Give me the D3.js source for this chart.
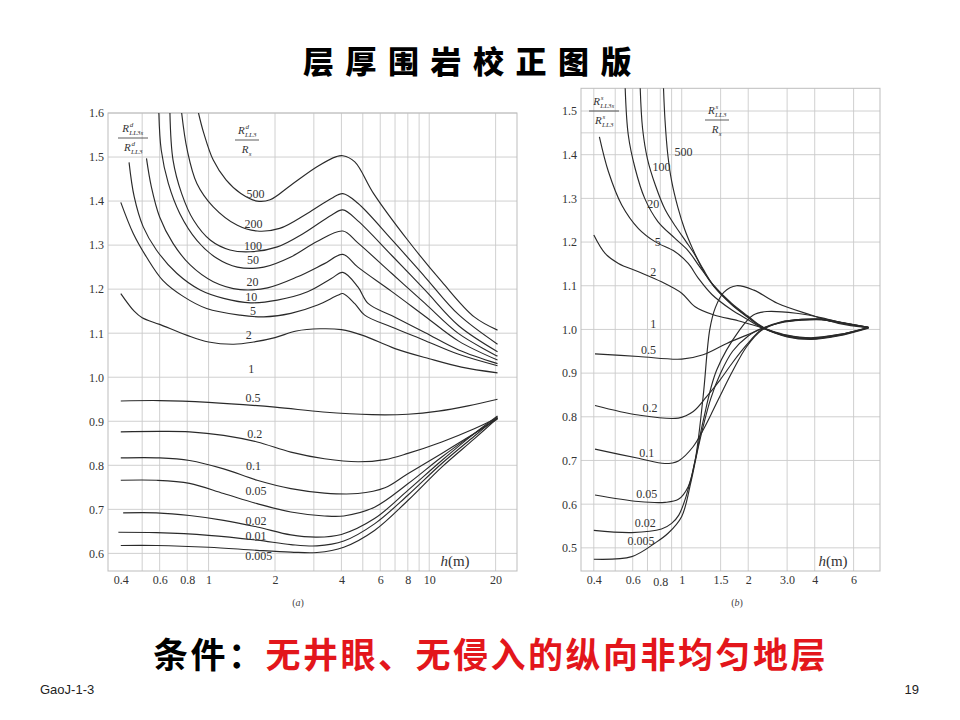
<!DOCTYPE html>
<html>
<head>
<meta charset="utf-8">
<script src="https://cdn.jsdelivr.net/npm/d3@7"></script>
<style>
  body { margin: 0; background: #fff; }
  svg { display: block; }
</style>
</head>
<body>
<svg id="chart" width="960" height="720"></svg>
<script>
// 层厚围岩校正图版 — two log-x correction charts, (a) deep and (b) shallow laterolog

// ---- panel (a) data: [h (m), ratio] ----
const a500 = [[0.90,1.60],[0.95,1.555],[1.05,1.493],[1.2,1.448],[1.4,1.417],[1.66,1.40],[1.9,1.403],[2.36,1.436],[3.1,1.478],[3.8,1.501],[4.06,1.503],[4.6,1.489],[5.6,1.417],[8,1.311],[11.4,1.217],[16,1.137],[20.4,1.107]];
const a200 = [[0.755,1.60],[0.80,1.516],[0.885,1.44],[1.05,1.387],[1.35,1.345],[1.66,1.332],[2.1,1.338],[2.8,1.372],[3.6,1.406],[4.06,1.417],[4.75,1.395],[6.75,1.313],[9.6,1.227],[13.6,1.142],[20.4,1.075]];
const a100 = [[0.668,1.60],[0.69,1.493],[0.755,1.417],[0.854,1.357],[1.02,1.311],[1.25,1.289],[1.55,1.285],[2.05,1.296],[2.7,1.327],[3.6,1.368],[4.06,1.38],[4.75,1.355],[6.75,1.277],[9.6,1.197],[13.6,1.117],[20.4,1.058]];
const a50 = [[0.595,1.60],[0.61,1.516],[0.657,1.44],[0.74,1.372],[0.885,1.311],[1.09,1.27],[1.35,1.25],[1.78,1.25],[2.36,1.273],[3.1,1.308],[4.06,1.332],[4.75,1.305],[6.75,1.236],[9.6,1.167],[13.6,1.099],[20.4,1.048]];
const a20 = [[0.523,1.497],[0.55,1.433],[0.60,1.364],[0.69,1.304],[0.825,1.255],[1.05,1.217],[1.39,1.199],[1.85,1.203],[2.53,1.228],[3.35,1.258],[4.06,1.279],[4.75,1.25],[6.75,1.195],[9.6,1.138],[13.6,1.082],[20.4,1.039]];
const a10 = [[0.436,1.488],[0.46,1.41],[0.505,1.342],[0.58,1.289],[0.717,1.236],[0.916,1.198],[1.17,1.179],[1.55,1.169],[2.05,1.175],[2.81,1.194],[3.6,1.224],[4.06,1.238],[4.75,1.205],[5.3,1.167],[6.75,1.14],[9.6,1.101],[13.6,1.062],[20.4,1.031]];
const a5 = [[0.40,1.397],[0.455,1.327],[0.523,1.273],[0.62,1.22],[0.77,1.183],[0.98,1.156],[1.39,1.141],[1.78,1.137],[2.36,1.145],[3.12,1.164],[3.85,1.186],[4.06,1.19],[4.6,1.167],[5.1,1.141],[6.75,1.114],[9.6,1.083],[13.6,1.052],[20.4,1.026]];
const a2 = [[0.40,1.19],[0.46,1.15],[0.5,1.135],[0.6,1.12],[0.8,1.095],[1,1.08],[1.3,1.075],[1.6,1.08],[2,1.09],[2.5,1.105],[3.2,1.11],[4,1.108],[5,1.095],[7,1.065],[10,1.042],[14,1.023],[20.4,1.01]];
const a05 = [[0.4,0.946],[0.6,0.947],[1,0.943],[2,0.932],[3.3,0.921],[5.5,0.915],[8,0.916],[11,0.923],[15,0.935],[20.4,0.95]];
const a02 = [[0.4,0.876],[0.6,0.877],[0.82,0.876],[1.17,0.868],[1.66,0.853],[2.36,0.83],[3.35,0.815],[4.75,0.808],[6.3,0.813],[8,0.827],[11.4,0.853],[16,0.883],[20.4,0.908]];
const a01 = [[0.4,0.817],[0.6,0.817],[0.82,0.811],[1.17,0.792],[1.66,0.766],[2.36,0.747],[3.35,0.737],[4.75,0.736],[6.3,0.749],[8,0.781],[11.4,0.827],[16,0.872],[20.4,0.905]];
const a005 = [[0.4,0.766],[0.58,0.766],[0.82,0.759],[1.17,0.736],[1.66,0.713],[2.36,0.694],[3.35,0.685],[4.1,0.685],[5.65,0.705],[8,0.758],[11.4,0.819],[16,0.872],[20.4,0.907]];
const a002 = [[0.41,0.692],[0.58,0.692],[0.82,0.686],[1.17,0.675],[1.66,0.66],[2.36,0.642],[3.1,0.637],[4,0.643],[5.65,0.679],[8,0.743],[11.4,0.811],[16,0.872],[20.4,0.912]];
const a001 = [[0.39,0.648],[0.58,0.647],[1,0.641],[1.66,0.63],[2.36,0.62],[3.1,0.617],[4.1,0.628],[5.65,0.667],[8,0.732],[11.4,0.804],[16,0.866],[20.4,0.91]];
const a0005 = [[0.4,0.618],[0.58,0.618],[1,0.614],[1.66,0.607],[2.36,0.603],[3.1,0.602],[4.1,0.614],[5.65,0.652],[8,0.72],[11.4,0.796],[16,0.86],[20.4,0.907]];

// curve labels for (a): [text, h, ratio]
const aLabels = [["500",1.63,1.416],["200",1.60,1.349],["100",1.59,1.298],["50",1.59,1.266],["20",1.58,1.217],["10",1.56,1.183],["5",1.59,1.151],["2",1.52,1.097],["1",1.56,1.02],
  ["0.5",1.59,0.954],["0.2",1.62,0.872],["0.1",1.60,0.80],["0.05",1.64,0.743],["0.02",1.64,0.675],["0.01",1.64,0.641],["0.005",1.69,0.594]];

const aXTicks = [0.4,0.6,0.8,1,2,4,6,8,10,20];
const aXGrid = [0.5,0.6,0.8,1,2,3,4,5,6,7,8,9,10,20];
const aYTicks = [0.6,0.7,0.8,0.9,1.0,1.1,1.2,1.3,1.4,1.5,1.6];

// ---- panel (b) data ----
const b500 = [[0.826,1.56],[0.84,1.48],[0.865,1.40],[0.90,1.34],[0.96,1.28],[1.03,1.23],[1.12,1.185],[1.25,1.135],[1.4,1.098],[1.68,1.058],[2.0,1.028],[2.3,1.006],[3.0,0.984],[3.85,0.978],[5.1,0.986],[7.0,1.004]];
const b100 = [[0.648,1.56],[0.665,1.46],[0.70,1.39],[0.76,1.33],[0.84,1.275],[0.94,1.235],[1.05,1.20],[1.15,1.17],[1.25,1.138],[1.4,1.099],[1.68,1.057],[2.0,1.027],[2.3,1.005],[3.0,0.983],[3.85,0.977],[5.1,0.985],[7.0,1.003]];
const b20 = [[0.554,1.56],[0.573,1.445],[0.615,1.369],[0.68,1.30],[0.78,1.247],[0.93,1.209],[1.07,1.18],[1.2,1.145],[1.4,1.10],[1.68,1.06],[2.0,1.03],[2.3,1.007],[3.0,0.985],[3.85,0.979],[5.1,0.987],[7.0,1.005]];
const b5 = [[0.424,1.441],[0.466,1.361],[0.535,1.285],[0.637,1.231],[0.757,1.201],[0.933,1.178],[1.07,1.151],[1.19,1.117],[1.37,1.08],[1.68,1.045],[2.0,1.022],[2.3,1.004],[3.0,0.986],[3.85,0.98],[5.1,0.988],[7.0,1.004]];
const b2 = [[0.40,1.216],[0.45,1.174],[0.517,1.151],[0.637,1.132],[0.81,1.109],[1.0,1.083],[1.15,1.052],[1.4,1.033],[1.8,1.02],[2.3,1.004],[3.0,0.987],[3.85,0.981],[5.1,0.988],[7.0,1.004]];
const b05 = [[0.405,0.944],[0.637,0.938],[1.0,0.932],[1.25,0.942],[1.6,0.968],[1.97,0.987],[2.3,1.002],[2.8,1.016],[3.5,1.022],[4.3,1.023],[5.2,1.016],[7.0,1.005]];
const b02 = [[0.405,0.826],[0.637,0.804],[0.966,0.797],[1.128,0.812],[1.296,0.846],[1.49,0.884],[1.71,0.926],[1.97,0.965],[2.3,1.0],[2.8,1.015],[3.5,1.021],[4.3,1.022],[5.2,1.015],[7.0,1.004]];
const b01 = [[0.405,0.726],[0.637,0.705],[0.84,0.693],[0.966,0.699],[1.128,0.732],[1.25,0.77],[1.39,0.816],[1.54,0.862],[1.71,0.907],[1.97,0.961],[2.3,0.998],[2.8,1.016],[3.5,1.023],[4.3,1.023],[5.2,1.016],[7.0,1.005]];
const b005 = [[0.405,0.621],[0.637,0.606],[0.84,0.604],[0.966,0.611],[1.07,0.64],[1.15,0.70],[1.25,0.79],[1.44,0.907],[1.83,0.999],[2.11,1.033],[2.43,1.041],[3.3,1.037],[4.37,1.026],[5.5,1.013],[7.0,1.004]];
const b002 = [[0.4,0.54],[0.594,0.535],[0.81,0.543],[0.9,0.556],[0.97,0.575],[1.05,0.62],[1.15,0.70],[1.25,0.846],[1.34,1.0],[1.42,1.05],[1.55,1.085],[1.77,1.10],[2.12,1.09],[2.71,1.06],[3.85,1.033],[5.12,1.014],[7.0,1.004]];
const b0005 = [[0.4,0.474],[0.594,0.48],[0.757,0.511],[0.87,0.534],[1.0,0.572],[1.1,0.65],[1.2,0.74],[1.35,0.84],[1.5,0.90],[1.7,0.95],[2.0,0.985],[2.3,1.002],[2.8,1.017],[3.5,1.023],[4.3,1.024],[5.2,1.017],[7.0,1.005]];

const bLabels = [["500",1.02,1.407],["100",0.81,1.373],["20",0.744,1.287],["5",0.779,1.201],["2",0.744,1.131],["1",0.744,1.012],
  ["0.5",0.707,0.953],["0.2",0.719,0.821],["0.1",0.694,0.718],["0.05",0.694,0.624],["0.02",0.683,0.558],["0.005",0.655,0.515]];

const bXTicks = [0.4,0.6,0.8,1,1.5,2,3,4,6];
const bXGrid = [0.4,0.5,0.6,0.7,0.8,0.9,1,1.5,2,3,4,6];
const bYTicks = [0.5,0.6,0.7,0.8,0.9,1.0,1.1,1.2,1.3,1.4,1.5];
const bYGrid = [0.5,0.6,0.7,0.8,0.9,1.0,1.1,1.2,1.3,1.4,1.45,1.5];

const SERIF = "'Liberation Serif','DejaVu Serif',serif";
const CJK = "'Noto Sans CJK SC','Noto Sans',sans-serif";
const COLOR_GRID = "#cbcbcb";
const COLOR_CURVE = "#2a2a2a";

const svg = d3.select("#chart");
svg.append("rect").attr("width", 960).attr("height", 720).attr("fill", "#fff");

// title
svg.append("text")
  .attr("x", 303).attr("y", 73)
  .attr("font-family", CJK).attr("font-weight", 900)
  .attr("font-size", 31).attr("letter-spacing", 11.5)
  .attr("fill", "#000")
  .text("层厚围岩校正图版");

// draws "R^sup_sub" as italic text; sup and sub are separate texts so their boxes stay apart
const ratioPart = (g, cx, y, base, sup, sub) => {
  const italic = (sel) => sel.attr("font-family", SERIF).attr("font-style", "italic").attr("fill", "#333");
  const subW = sub ? sub.length * 3.6 : 0;
  const left = cx - (7 + subW) / 2;
  italic(g.append("text")).attr("x", left).attr("y", y).attr("font-size", 11).text(base);
  if (sup) italic(g.append("text")).attr("x", left + 7.5).attr("y", y - 5.5).attr("font-size", 7).text(sup);
  if (sub) italic(g.append("text")).attr("x", left + 7).attr("y", y + 3).attr("font-size", 7).text(sub);
};

const ratioLabel = (g, cx, cy, num, den, w) => {
  ratioPart(g, cx, cy - 6, ...num);
  g.append("line").attr("x1", cx - w / 2).attr("x2", cx + w / 2)
    .attr("y1", cy).attr("y2", cy).attr("stroke", "#333").attr("stroke-width", 0.8);
  ratioPart(g, cx, cy + 13, ...den);
};

const drawPanel = (cfg) => {
  const { x, y, xGrid, yGrid, xTicks, yTicks, series, labels, id } = cfg;
  const [x0, x1] = x.range();
  const [y0, y1] = y.range();
  const g = svg.append("g");

  g.append("clipPath").attr("id", "clip-" + id)
    .append("rect").attr("x", x0).attr("y", y1).attr("width", x1 - x0).attr("height", y0 - y1);

  // grid
  g.append("g").selectAll("line").data(xGrid).join("line")
    .attr("x1", (d) => x(d)).attr("x2", (d) => x(d))
    .attr("y1", y1).attr("y2", y0)
    .attr("stroke", COLOR_GRID).attr("stroke-width", 0.9);
  g.append("g").selectAll("line").data(yGrid).join("line")
    .attr("x1", x0).attr("x2", x1)
    .attr("y1", (d) => y(d)).attr("y2", (d) => y(d))
    .attr("stroke", COLOR_GRID).attr("stroke-width", 0.9);
  g.append("rect").attr("x", x0).attr("y", y1).attr("width", x1 - x0).attr("height", y0 - y1)
    .attr("fill", "none").attr("stroke", "#bdbdbd").attr("stroke-width", 1);

  // axes (labels only, no tick marks)
  const xAxis = d3.axisBottom(x).tickValues(xTicks).tickSize(0).tickPadding(0)
    .tickFormat(cfg.xFormat);
  const xg = g.append("g").attr("transform", "translate(0," + (y0 + 4) + ")").call(xAxis);
  xg.select(".domain").remove();
  xg.selectAll("text").attr("font-family", SERIF).attr("font-size", 12).attr("fill", "#333")
    .attr("dy", (d) => (id === "b" && d === 0.8 ? "0.95em" : "0.71em"));

  const yAxis = d3.axisLeft(y).tickValues(yTicks).tickSize(0).tickPadding(0)
    .tickFormat(d3.format(".1f"));
  const yg = g.append("g").attr("transform", "translate(" + (x0 - 4) + ",0)").call(yAxis);
  yg.select(".domain").remove();
  yg.selectAll("text").attr("font-family", SERIF).attr("font-size", 12).attr("fill", "#333");

  // curves
  const line = d3.line()
    .x((d) => x(d[0])).y((d) => y(d[1]))
    .curve(d3.curveCatmullRom.alpha(0.5));
  g.append("g").attr("clip-path", "url(#clip-" + id + ")")
    .selectAll("path").data(series).join("path")
    .attr("d", line)
    .attr("fill", "none").attr("stroke", COLOR_CURVE).attr("stroke-width", 1.15);

  // curve labels
  g.append("g").selectAll("text").data(labels).join("text")
    .attr("x", (d) => x(d[1])).attr("y", (d) => y(d[2]))
    .attr("dy", "0.35em").attr("text-anchor", "middle")
    .attr("font-family", SERIF).attr("font-size", 12).attr("fill", "#333")
    .text((d) => d[0]);

  // h(m) and caption
  const hm = g.append("text").attr("x", cfg.hmX).attr("y", y0 - 5)
    .attr("text-anchor", "middle").attr("font-family", SERIF).attr("font-size", 15).attr("fill", "#333");
  hm.append("tspan").attr("font-style", "italic").text("h");
  hm.append("tspan").text("(m)");
  const cap = g.append("text").attr("x", cfg.capX).attr("y", y0 + 35)
    .attr("text-anchor", "middle").attr("font-family", SERIF).attr("font-size", 10).attr("fill", "#444");
  cap.append("tspan").text("(");
  cap.append("tspan").attr("font-style", "italic").text(id);
  cap.append("tspan").text(")");

  return g;
};

// panel (a)
const xa = d3.scaleLog().domain([0.35, 25]).range([108, 517]);
const ya = d3.scaleLinear().domain([0.56, 1.6]).range([571, 113]);
const ga = drawPanel({
  id: "a", x: xa, y: ya,
  xGrid: aXGrid, yGrid: aYTicks, xTicks: aXTicks, yTicks: aYTicks,
  xFormat: (d) => String(d),
  series: [a500, a200, a100, a50, a20, a10, a5, a2, a05, a02, a01, a005, a002, a001, a0005],
  labels: aLabels, hmX: 455, capX: 298
});
ratioLabel(ga, 133, 138, ["R", "d", "LL3s"], ["R", "d", "LL3"], 30);
ratioLabel(ga, 247, 140, ["R", "d", "LL3"], ["R", null, "s"], 24);

// panel (b)
const xb = d3.scaleLog().domain([0.35, 7.9]).range([581, 880]);
const yb = d3.scaleLinear().domain([0.447, 1.552]).range([571, 88.3]);
const gb = drawPanel({
  id: "b", x: xb, y: yb,
  xGrid: bXGrid, yGrid: bYGrid, xTicks: bXTicks, yTicks: bYTicks,
  xFormat: (d) => (d === 3 ? "3.0" : String(d)),
  series: [b500, b100, b20, b5, b2, b05, b02, b01, b005, b002, b0005],
  labels: bLabels, hmX: 833, capX: 737
});
ratioLabel(gb, 604, 111, ["R", "s", "LL3s"], ["R", "s", "LL3"], 30);
ratioLabel(gb, 717, 120, ["R", "s", "LL3"], ["R", null, "s"], 24);

// condition line
const cond = svg.append("text")
  .attr("x", 153).attr("y", 668)
  .attr("font-family", CJK).attr("font-weight", 700)
  .attr("font-size", 35).attr("letter-spacing", 2.5);
cond.append("tspan").attr("fill", "#000").text("条件：");
cond.append("tspan").attr("fill", "#e3161b").text("无井眼、无侵入的纵向非均匀地层");

// footer
svg.append("text").attr("x", 40).attr("y", 694)
  .attr("font-family", "'Liberation Sans',Arial,sans-serif").attr("font-size", 13).attr("fill", "#222")
  .text("GaoJ-1-3");
svg.append("text").attr("x", 919).attr("y", 694).attr("text-anchor", "end")
  .attr("font-family", "'Liberation Sans',Arial,sans-serif").attr("font-size", 13).attr("fill", "#222")
  .text("19");
</script>
</body>
</html>
